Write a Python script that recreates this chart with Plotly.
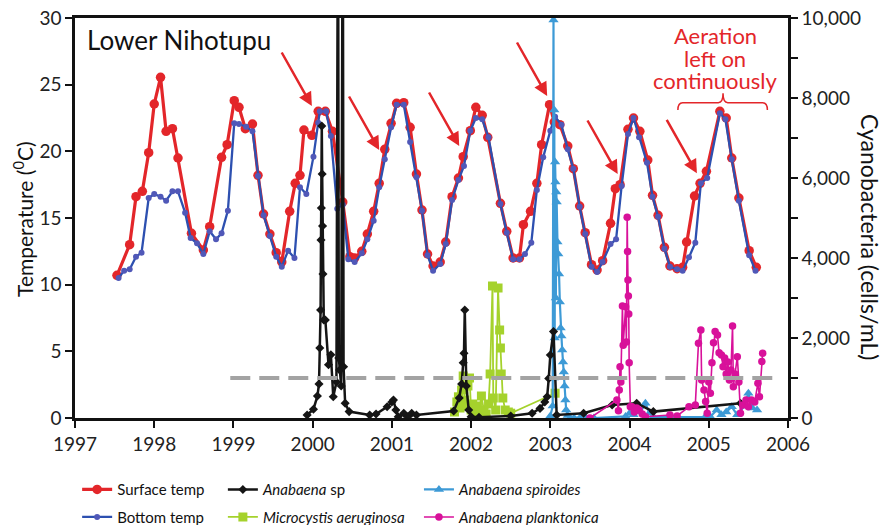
import plotly.graph_objects as go

# ---------------- data ----------------
bottom_dates = [1997.55, 1997.62, 1997.69, 1997.77, 1997.84, 1997.93, 1998.00, 1998.08, 1998.15, 1998.23,
                1998.30, 1998.39, 1998.46, 1998.54, 1998.62, 1998.70, 1998.78, 1998.85, 1998.93, 1999.01,
                1999.07, 1999.16, 1999.24, 1999.31, 1999.38, 1999.46, 1999.54, 1999.61, 1999.69, 1999.77,
                1999.84, 1999.92, 2000.01, 2000.07, 2000.09, 2000.17, 2000.23, 2000.31, 2000.38, 2000.45,
                2000.53, 2000.62, 2000.69, 2000.77, 2000.84, 2000.91, 2000.99, 2001.06, 2001.15, 2001.23,
                2001.31, 2001.38, 2001.45, 2001.52, 2001.61, 2001.68, 2001.76, 2001.84, 2001.91, 2001.99,
                2002.06, 2002.14, 2002.22, 2002.37, 2002.45, 2002.53, 2002.61, 2002.68, 2002.76, 2002.83,
                2002.91, 2003.00, 2003.06, 2003.14, 2003.22, 2003.29, 2003.37, 2003.44, 2003.52, 2003.59,
                2003.66, 2003.76, 2003.83, 2003.90, 2003.98, 2004.05, 2004.12, 2004.22, 2004.29, 2004.36,
                2004.44, 2004.51, 2004.60, 2004.67, 2004.75, 2004.83, 2004.90, 2004.98, 2005.14, 2005.21,
                2005.29, 2005.38, 2005.51, 2005.59]
bottom_temp = [10.5, 11.05, 11.15, 12.1, 12.4, 16.5, 16.8, 16.6, 16.3, 17.0,
               17.0, 15.4, 13.5, 13.1, 12.3, 14.0, 13.4, 13.85, 15.55, 22.1,
               22.05, 21.85, 21.5, 18.15, 15.2, 13.65, 12.1, 11.35, 12.55, 12.0,
               17.3, 16.8, 19.6, 22.15, 23.0, 23.0, 21.15, 15.7, 16.0, 11.9,
               11.7, 12.35, 13.4, 14.8, 17.3, 19.4, 21.8, 23.5, 23.5, 20.7,
               18.05, 15.55, 12.2, 11.05, 11.55, 13.05, 16.35, 17.85, 18.9, 21.55,
               22.5, 22.4, 21.05, 16.05, 13.9, 11.9, 11.9, 12.3, 13.15, 17.1,
               19.55, 21.55, 22.6, 22.0, 20.15, 18.7, 15.85, 13.8, 11.35, 10.95,
               11.7, 13.05, 13.4, 17.4, 21.3, 22.5, 21.05, 19.15, 16.6, 15.1,
               12.7, 11.35, 11.15, 11.05, 12.05, 13.15, 17.6, 18.0, 22.85, 22.4,
               19.4, 16.3, 12.2, 11.05]

surface_dates = [1997.53, 1997.69, 1997.77, 1997.85, 1997.93, 1998.00, 1998.08, 1998.15, 1998.23, 1998.30,
                 1998.47, 1998.62, 1998.70, 1998.85, 1998.92, 1999.01, 1999.07, 1999.15, 1999.24, 1999.31,
                 1999.38, 1999.46, 1999.54, 1999.61, 1999.71, 1999.78, 1999.84, 1999.89, 1999.99, 2000.07,
                 2000.16, 2000.25, 2000.38, 2000.47, 2000.53, 2000.62, 2000.69, 2000.77, 2000.84, 2000.91,
                 2000.99, 2001.06, 2001.15, 2001.23, 2001.31, 2001.38, 2001.45, 2001.52, 2001.61, 2001.68,
                 2001.76, 2001.84, 2001.90, 2001.99, 2002.06, 2002.14, 2002.21, 2002.37, 2002.45, 2002.53,
                 2002.61, 2002.66, 2002.75, 2002.83, 2002.89, 2002.99, 2003.05, 2003.12, 2003.22, 2003.29,
                 2003.37, 2003.44, 2003.52, 2003.59, 2003.66, 2003.76, 2003.82, 2003.88, 2003.98, 2004.05,
                 2004.13, 2004.23, 2004.29, 2004.36, 2004.44, 2004.51, 2004.60, 2004.67, 2004.72, 2004.82,
                 2004.89, 2004.97, 2005.14, 2005.22, 2005.29, 2005.38, 2005.51, 2005.60]
surface_temp = [10.7, 13.0, 16.6, 17.0, 19.9, 23.55, 25.55, 21.5, 21.7, 19.5,
                13.85, 12.6, 14.35, 19.55, 20.5, 23.8, 23.3, 21.7, 22.05, 18.2,
                15.3, 13.8, 12.4, 11.7, 15.5, 17.6, 18.2, 21.6, 21.2, 23.0,
                23.0, 21.5, 16.2, 12.1, 12.0, 12.5, 13.8, 15.5, 17.6, 20.15,
                22.1, 23.6, 23.65, 21.8, 18.3, 15.6, 12.3, 11.4, 11.7, 13.2,
                16.6, 18.0, 19.6, 21.55, 23.3, 22.7, 21.05, 16.1, 14.0, 12.0,
                12.0, 14.5, 15.5, 17.6, 20.5, 23.5, 22.2, 22.0, 20.4, 18.7,
                15.9, 13.9, 11.5, 11.1, 11.8, 14.6, 17.2, 17.5, 21.65, 22.5,
                21.5, 19.35, 16.7, 15.2, 12.8, 11.4, 11.2, 11.3, 13.2, 16.65,
                17.6, 18.5, 23.0, 22.5, 19.5, 16.5, 12.55, 11.3]

anabaena_sp_dates = [1999.93, 2000.01, 2000.06, 2000.08, 2000.09, 2000.10, 2000.105, 2000.11, 2000.115, 2000.12,
                     2000.125, 2000.13, 2000.14, 2000.16, 2000.20, 2000.23, 2000.26, 2000.30, 2000.32, 2000.33,
                     2000.34, 2000.36, 2000.38, 2000.39, 2000.41, 2000.46, 2000.72, 2000.80, 2000.94, 2001.00,
                     2001.02, 2001.05, 2001.08, 2001.15, 2001.20, 2001.25, 2001.31, 2001.78, 2001.85, 2001.88,
                     2001.90, 2001.91, 2001.92, 2001.94, 2001.97, 2002.00, 2002.10, 2002.50, 2002.77, 2002.87,
                     2002.93, 2002.96, 2002.98, 2003.00, 2003.04, 2003.08, 2003.42, 2003.78, 2004.09, 2004.30,
                     2005.40]
anabaena_sp_cells = [75, 220, 550, 850, 1750, 2700, 4450, 5250, 7300, 6100,
                     4800, 3600, 2450, 2450, 1330, 1580, 530, 900, 14000, 1500,
                     1200, 800, 14000, 1280, 370, 160, 75, 100, 280, 400,
                     450, 200, 30, 120, 30, 120, 75, 175, 500, 850,
                     1380, 1620, 2700, 800, 200, 30, 20, 50, 120, 240,
                     400, 530, 990, 1575, 2160, 75, 120, 325, 370, 160,
                     370]

microcystis_dates = [2001.79, 2001.82, 2001.84, 2001.86, 2001.88, 2001.90, 2001.92, 2001.94, 2001.96, 2001.98,
                     2002.00, 2002.02, 2002.05, 2002.08, 2002.10, 2002.13, 2002.16, 2002.19, 2002.22, 2002.24,
                     2002.27, 2002.28, 2002.31, 2002.34, 2002.36, 2002.37, 2002.38, 2002.40, 2002.43, 2002.47,
                     2002.50, 2003.06]
microcystis_cells = [150, 400, 530, 250, 700, 1050, 450, 300, 800, 1000,
                     200, 350, 100, 300, 150, 550, 200, 100, 350, 1100,
                     3300, 500, 200, 3250, 2200, 1750, 1100, 500, 200, 150,
                     120, 620]

spiroides_dates = [2003.00, 2003.03, 2003.04, 2003.045, 2003.05, 2003.055, 2003.06, 2003.065, 2003.07, 2003.075,
                   2003.08, 2003.09, 2003.10, 2003.11, 2003.12, 2003.13, 2003.14, 2003.15, 2003.16, 2003.17,
                   2003.18, 2003.19, 2003.20, 2003.22, 2003.25, 2003.30, 2003.38, 2003.45, 2003.55, 2003.95,
                   2004.00, 2004.05, 2004.09, 2004.14, 2004.20, 2004.25, 2004.30, 2004.95, 2005.02, 2005.10,
                   2005.16, 2005.22, 2005.29, 2005.36, 2005.45, 2005.50, 2005.55, 2005.61]
spiroides_cells = [50, 300, 9950, 1000, 7700, 2000, 6400, 5900, 3000, 5650,
                   5400, 4400, 4100, 3600, 2900, 2250, 2050, 1700, 1400, 1150,
                   800, 450, 200, 60, 0, 0, 20, 0, 0, 40,
                   120, 80, 270, 150, 370, 120, 30, 20, 30, 200,
                   80, 150, 280, 80, 300, 620, 250, 200]

planktonica_dates = [2003.50, 2003.84, 2003.86, 2003.87, 2003.88, 2003.89, 2003.91, 2003.92, 2003.95, 2003.96,
                     2003.97, 2003.975, 2003.98, 2003.985, 2003.99, 2003.995, 2004.01, 2004.03, 2004.06, 2004.09,
                     2004.12, 2004.16, 2004.20, 2004.51, 2004.60, 2004.75, 2004.83, 2004.87, 2004.90, 2004.91,
                     2004.94, 2004.96, 2004.98, 2005.00, 2005.02, 2005.04, 2005.06, 2005.08, 2005.11, 2005.13,
                     2005.16, 2005.18, 2005.20, 2005.22, 2005.24, 2005.26, 2005.28, 2005.30, 2005.31, 2005.33,
                     2005.36, 2005.38, 2005.40, 2005.43, 2005.47, 2005.50, 2005.54, 2005.58, 2005.62, 2005.64,
                     2005.67, 2005.68]
planktonica_cells = [0, 450, 180, 700, 1280, 900, 2800, 1820, 2780, 1900,
                     5020, 4160, 3450, 3050, 2600, 1380, 280, 280, 150, 250,
                     200, 100, 30, 75, 50, 280, 325, 1870, 2200, 950,
                     700, 410, 120, 900, 620, 1380, 1880, 2160, 2075, 1630,
                     1575, 1280, 1500, 1100, 1400, 950, 1200, 2300, 780, 1100,
                     1530, 900, 120, 325, 450, 280, 450, 400, 870, 530,
                     1410, 1620]

threshold_cells = 1000
threshold_span = [1998.96, 2005.9]

year_ticks = list(range(1997, 2007))
temp_ticks = [0, 5, 10, 15, 20, 25, 30]
cell_ticks = list(range(0, 10001, 1000))
cell_labels = [f"{v:,}" if v % 2000 == 0 else "" for v in cell_ticks]

# arrow heads (year, temperature)
arrow_heads = [(1999.99, 23.4), (2000.84, 20.1), (2001.85, 20.4),
               (2002.96, 24.15), (2003.85, 18.3), (2004.85, 18.35)]

# ---------------- styling ----------------
RED = "#e3262a"
BLUE = "#2d50b0"
BLUE_M = "#5058b8"
BLACK = "#151515"
LBLUE = "#3d9ad6"
GREEN = "#a5d22c"
MAGENTA = "#d8119a"
FONT = "Lato"

fig = go.Figure()

fig.add_trace(go.Scatter(x=surface_dates, y=surface_temp, name="Surface temp", mode="lines+markers",
                         line=dict(color=RED, width=3.2), marker=dict(color=RED, size=9.5, symbol="circle"),
                         legend="legend", legendrank=1, legendgroup="g1"))
fig.add_trace(go.Scatter(x=bottom_dates, y=bottom_temp, name="Bottom temp", mode="lines+markers",
                         line=dict(color=BLUE, width=2.3), marker=dict(color=BLUE_M, size=6, symbol="circle"),
                         legend="legend", legendrank=2, legendgroup="g2"))
fig.add_trace(go.Scatter(x=microcystis_dates, y=microcystis_cells, yaxis="y2",
                         name="<i>Microcystis aeruginosa</i>", mode="lines+markers",
                         line=dict(color=GREEN, width=1.8), marker=dict(color=GREEN, size=9, symbol="square"),
                         legend="legend2", legendrank=2, legendgroup="g4"))
fig.add_trace(go.Scatter(x=spiroides_dates, y=spiroides_cells, yaxis="y2",
                         name="<i>Anabaena spiroides</i>", mode="lines+markers",
                         line=dict(color=LBLUE, width=2.2), marker=dict(color=LBLUE, size=9, symbol="triangle-up"),
                         legend="legend3", legendrank=1, legendgroup="g5"))
fig.add_trace(go.Scatter(x=anabaena_sp_dates, y=anabaena_sp_cells, yaxis="y2",
                         name="<i>Anabaena</i> sp", mode="lines+markers",
                         line=dict(color=BLACK, width=2.5), marker=dict(color=BLACK, size=7, symbol="diamond"),
                         legend="legend2", legendrank=1, legendgroup="g3"))
fig.add_trace(go.Scatter(x=planktonica_dates, y=planktonica_cells, yaxis="y2",
                         name="<i>Anabaena planktonica</i>", mode="lines+markers",
                         line=dict(color=MAGENTA, width=1.6), marker=dict(color=MAGENTA, size=7.5, symbol="circle"),
                         legend="legend3", legendrank=2, legendgroup="g6"))

# threshold dashed line
fig.add_shape(type="line", xref="x", yref="y2", x0=threshold_span[0], x1=threshold_span[1],
              y0=threshold_cells, y1=threshold_cells, line=dict(color="#a3a3a3", width=4, dash="20px,9px"),
              layer="above")

# arrows
for hx, hy in arrow_heads:
    fig.add_annotation(x=hx, y=hy, xref="x", yref="y", ax=-31, ay=-55, text="", showarrow=True,
                       arrowhead=2, arrowsize=1.1, arrowwidth=2.5, arrowcolor=RED, standoff=0)

# brace
bx0, bx1, bxc = 2004.61, 2005.74, 2005.18
by0, by1, byt = 23.1, 23.65, 24.35
fig.add_shape(type="path", xref="x", yref="y",
              path=(f"M {bx0},{by0} Q {bx0},{by1} {bx0+0.06},{by1} L {bxc-0.06},{by1} "
                    f"Q {bxc},{by1} {bxc},{byt} Q {bxc},{by1} {bxc+0.06},{by1} "
                    f"L {bx1-0.06},{by1} Q {bx1},{by1} {bx1},{by0}"),
              line=dict(color=RED, width=1.5))

for txt, yy in [("Aeration", 28.72), ("left on", 27.0), ("continuously", 25.35)]:
    fig.add_annotation(x=2005.08, y=yy, xref="x", yref="y", text=txt, showarrow=False,
                       font=dict(family=FONT, size=22, color=RED), xanchor="center", yanchor="middle",
                       borderpad=0)

fig.add_annotation(x=1997.12, y=28.35, xref="x", yref="y", text="Lower Nihotupu", showarrow=False,
                   font=dict(family=FONT, size=26, color="#111"), xanchor="left", yanchor="middle")

# axis titles
fig.add_annotation(x=-0.073, y=0.4975, xref="paper", yref="paper", text="Temperature (<sup>0</sup>C)",
                   textangle=-90, showarrow=False, font=dict(family=FONT, size=21, color="#111"),
                   xanchor="center", yanchor="middle")
fig.add_annotation(x=1.115, y=0.4525, xref="paper", yref="paper", text="Cyanobacteria (cells/mL)",
                   textangle=90, showarrow=False, font=dict(family=FONT, size=23, color="#111"),
                   xanchor="center", yanchor="middle")

axis_common = dict(showgrid=False, zeroline=False, linecolor="#111", linewidth=2.5,
                   tickcolor="#111", tickwidth=2.2, ticklen=7, ticklabeloverflow="allow",
                   tickfont=dict(family=FONT, size=19, color="#222"))

leg_common = dict(orientation="v", yanchor="top", xanchor="left", bgcolor="rgba(0,0,0,0)",
                  font=dict(family=FONT, size=15, color="#111"), tracegroupgap=5, itemwidth=30,
                  traceorder="grouped")

fig.update_layout(
    width=887, height=525,
    margin=dict(l=75, r=99, t=18, b=107, autoexpand=False),
    paper_bgcolor="white", plot_bgcolor="white",
    font=dict(family=FONT, color="#111"),
    xaxis=dict(range=[1997, 2006], tickvals=year_ticks, ticks="outside", mirror=True, **axis_common),
    yaxis=dict(range=[0, 30], tickvals=temp_ticks, ticks="outside", **axis_common),
    yaxis2=dict(range=[0, 10000], overlaying="y", side="right", tickvals=cell_ticks, ticktext=cell_labels,
                ticks="outside", anchor="x", **axis_common),
    yaxis3=dict(range=[0, 10000], overlaying="y", side="right", tickvals=cell_ticks, ticks="inside",
                showticklabels=False, showline=False, showgrid=False, zeroline=False,
                tickcolor="#111", tickwidth=2.2, ticklen=7, anchor="x"),
    showlegend=True,
    legend=dict(x=0.003, y=-0.138, **leg_common),
    legend2=dict(x=0.2074, y=-0.138, **leg_common),
    legend3=dict(x=0.4824, y=-0.138, **leg_common),
)

fig.write_html("out.html", config={"displayModeBar": False},
               post_script="document.body.style.margin='0';")
